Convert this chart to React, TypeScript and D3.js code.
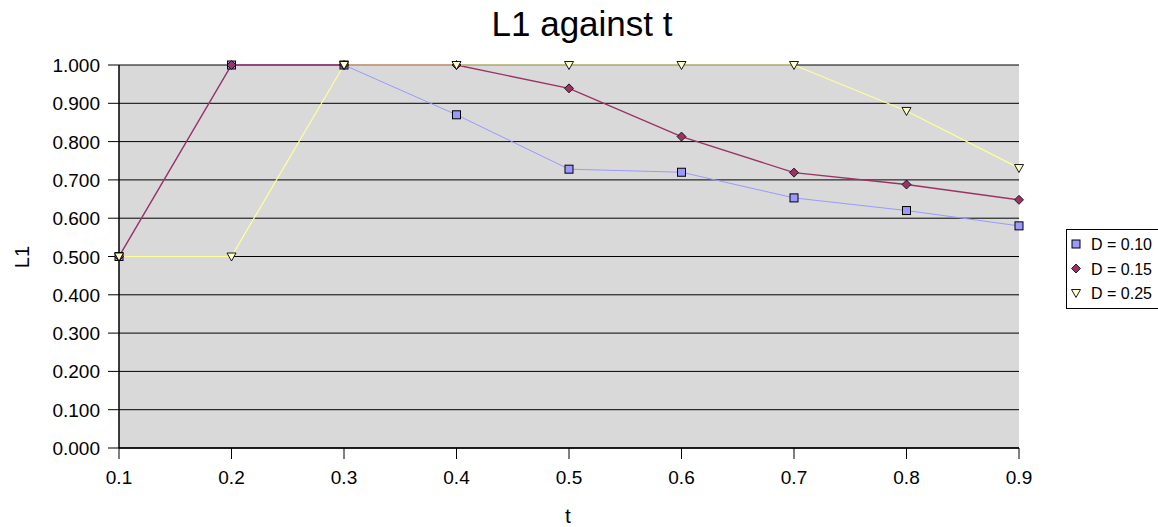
import * as d3 from "d3"

const tValues = [0.1, 0.2, 0.3, 0.4, 0.5, 0.6, 0.7, 0.8, 0.9]
const d010 = [0.5, 1.0, 1.0, 0.87, 0.728, 0.72, 0.653, 0.62, 0.58]
const d015 = [0.5, 1.0, 1.0, 1.0, 0.939, 0.813, 0.719, 0.688, 0.648]
const d025 = [0.5, 0.5, 1.0, 1.0, 1.0, 1.0, 1.0, 0.88, 0.731]
const yTicks = [0, 0.1, 0.2, 0.3, 0.4, 0.5, 0.6, 0.7, 0.8, 0.9, 1.0]

const series = [
    { name: "D = 0.10", values: d010, color: "#9999ff", fill: "#9999ff", marker: "square", width: 1 },
    { name: "D = 0.15", values: d015, color: "#993366", fill: "#993366", marker: "diamond", width: 1.4 },
    { name: "D = 0.25", values: d025, color: "#ffff99", fill: "#ffffcc", marker: "triangle", width: 1.2 },
]

const W = 1158
const H = 527
const plot = { left: 119, right: 1019, top: 65, bottom: 448 }

function Marker({ type, x, y, fill }: { type: string; x: number; y: number; fill: string }) {
    if (type === "square") {
        return <rect x={x - 4} y={y - 4} width={8} height={8} fill={fill} stroke="#000" strokeWidth={1} />
    }
    if (type === "diamond") {
        return <path d={`M${x},${y - 4.5} L${x + 4.5},${y} L${x},${y + 4.5} L${x - 4.5},${y} Z`} fill={fill} stroke="#000" strokeWidth={0.8} />
    }
    return <path d={`M${x - 4.5},${y - 3.5} L${x + 4.5},${y - 3.5} L${x},${y + 4.5} Z`} fill={fill} stroke="#000" strokeWidth={0.9} />
}

export default function App() {
    const x = d3.scaleLinear().domain([0.1, 0.9]).range([plot.left, plot.right])
    const y = d3.scaleLinear().domain([0, 1]).range([plot.bottom, plot.top])
    const line = d3.line<number>().x((_, i) => x(tValues[i])).y((d) => y(d))
    const font = "'Liberation Sans', Arial, sans-serif"

    return (
        <svg width={W} height={H} style={{ position: "absolute", left: 0, top: 0 }} fontFamily={font}>
            <rect width={W} height={H} fill="#fff" />
            <text x={582} y={36} textAnchor="middle" fontSize={35}>L1 against t</text>

            <rect x={plot.left} y={plot.top} width={plot.right - plot.left} height={plot.bottom - plot.top} fill="#d9d9d9" />
            {yTicks.map((t) => (
                <g key={t}>
                    <line x1={plot.left - 11} x2={plot.right} y1={y(t)} y2={y(t)} stroke="#000" strokeWidth={1} />
                    <text x={100} y={y(t) + 7} textAnchor="end" fontSize={19}>{t.toFixed(3)}</text>
                </g>
            ))}
            <line x1={plot.left} x2={plot.left} y1={plot.top} y2={plot.bottom} stroke="#000" strokeWidth={1.5} />
            <line x1={plot.left} x2={plot.right} y1={plot.bottom} y2={plot.bottom} stroke="#000" strokeWidth={1.5} />
            {tValues.map((t) => (
                <g key={t}>
                    <line x1={x(t)} x2={x(t)} y1={plot.bottom} y2={plot.bottom + 11} stroke="#000" strokeWidth={1} />
                    <text x={x(t)} y={484} textAnchor="middle" fontSize={19}>{t.toFixed(1)}</text>
                </g>
            ))}

            {series.map((s) => (
                <path key={s.name} d={line(s.values) ?? ""} fill="none" stroke={s.color} strokeWidth={s.width} />
            ))}
            {series.map((s) =>
                s.values.map((v, i) => (
                    <Marker key={s.name + i} type={s.marker} x={x(tValues[i])} y={y(v)} fill={s.fill} />
                ))
            )}

            <text x={568} y={523} textAnchor="middle" fontSize={21}>t</text>
            <text transform={`translate(29,257) rotate(-90)`} textAnchor="middle" fontSize={20}>L1</text>

            <rect x={1066.5} y={229.5} width={100} height={79} fill="#fff" stroke="#000" strokeWidth={1} />
            {series.map((s, i) => (
                <g key={s.name}>
                    <Marker type={s.marker} x={1076} y={244 + i * 24.5} fill={s.fill} />
                    <text x={1091} y={250 + i * 24.5} fontSize={16}>{s.name}</text>
                </g>
            ))}
        </svg>
    )
}
